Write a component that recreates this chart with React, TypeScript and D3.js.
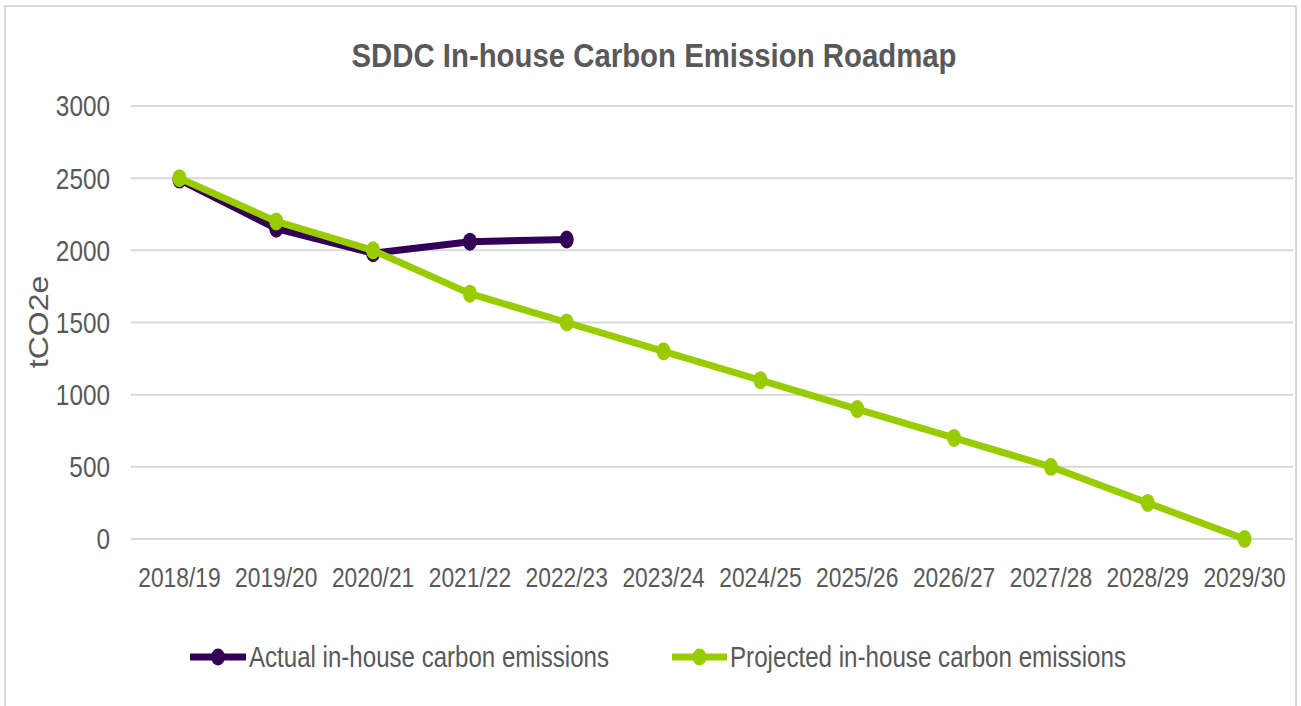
import React from 'react';
import * as d3 from 'd3';

const categories = [
  '2018/19', '2019/20', '2020/21', '2021/22', '2022/23', '2023/24',
  '2024/25', '2025/26', '2026/27', '2027/28', '2028/29', '2029/30',
];
const actualValues = [2490, 2150, 1980, 2060, 2075];
const projectedValues = [2500, 2200, 2000, 1700, 1500, 1300, 1100, 900, 700, 500, 250, 0];
const yTicks = [0, 500, 1000, 1500, 2000, 2500, 3000];

const PURPLE = '#330057';
const GREEN = '#99cc00';
const TEXT = '#595959';
const GRID = '#d9d9d9';
const FONT = '"Liberation Sans", Arial, sans-serif';
const SQUISH = 0.84; // source text is horizontally condensed

export default function App() {
  const width = 1301;
  const height = 706;

  const x = d3.scaleBand<string>().domain(categories).range([131, 1293]);
  const y = d3.scaleLinear().domain([0, 3000]).range([539, 106]);
  const cx = (i: number) => (x(categories[i]) ?? 0) + x.bandwidth() / 2;

  const line = d3.line<number>()
    .x((_, i) => cx(i))
    .y((d) => y(d));

  const series = [
    { name: 'Actual in-house carbon emissions', values: actualValues, color: PURPLE },
    { name: 'Projected in-house carbon emissions', values: projectedValues, color: GREEN },
  ];

  // legend layout
  const legend = [
    { x1: 190, x2: 246, tx: 249, tw: 360 },
    { x1: 672, x2: 727, tx: 730, tw: 396 },
  ];
  const legendY = 657;

  return (
    <svg
      width={width}
      height={height}
      style={{ position: 'absolute', left: 0, top: 0, background: '#fff' }}
      fontFamily={FONT}
    >
      <rect x={5} y={6} width={1291} height={710} fill="#fff" stroke={GRID} strokeWidth={2} />

      <text
        x={654}
        y={67}
        textAnchor="middle"
        fontSize={34}
        fontWeight="bold"
        fill={TEXT}
        textLength={605}
        lengthAdjust="spacingAndGlyphs"
      >
        SDDC In-house Carbon Emission Roadmap
      </text>

      {/* grid + y ticks */}
      {yTicks.map((t) => (
        <g key={t}>
          <line x1={131} x2={1293} y1={y(t)} y2={y(t)} stroke={GRID} strokeWidth={2} />
          <text
            transform={`translate(110,${y(t)}) scale(${SQUISH},1)`}
            textAnchor="end"
            dy="0.36em"
            fontSize={29}
            fill={TEXT}
          >
            {t}
          </text>
        </g>
      ))}

      {/* x labels */}
      {categories.map((c, i) => (
        <text
          key={c}
          transform={`translate(${cx(i)},587) scale(${SQUISH * 0.97},1)`}
          textAnchor="middle"
          fontSize={28}
          fill={TEXT}
        >
          {c}
        </text>
      ))}

      {/* y axis title */}
      <text
        transform={`translate(48,322) scale(${SQUISH},1) rotate(-90)`}
        textAnchor="middle"
        fontSize={32}
        fill={TEXT}
      >
        tCO2e
      </text>

      {/* series */}
      {series.map((s) => (
        <g key={s.name}>
          <path d={line(s.values) ?? ''} fill="none" stroke={s.color} strokeWidth={7} strokeLinejoin="round" />
          {s.values.map((v, i) => (
            <ellipse key={i} cx={cx(i)} cy={y(v)} rx={7} ry={9} fill={s.color} />
          ))}
        </g>
      ))}

      {/* legend */}
      {series.map((s, k) => {
        const l = legend[k];
        return (
          <g key={s.name}>
            <line x1={l.x1} x2={l.x2} y1={legendY} y2={legendY} stroke={s.color} strokeWidth={7} />
            <ellipse cx={(l.x1 + l.x2) / 2} cy={legendY} rx={7} ry={8.5} fill={s.color} />
            <text
              x={l.tx}
              y={667}
              fontSize={29}
              fill={TEXT}
              textLength={l.tw}
              lengthAdjust="spacingAndGlyphs"
            >
              {s.name}
            </text>
          </g>
        );
      })}
    </svg>
  );
}
